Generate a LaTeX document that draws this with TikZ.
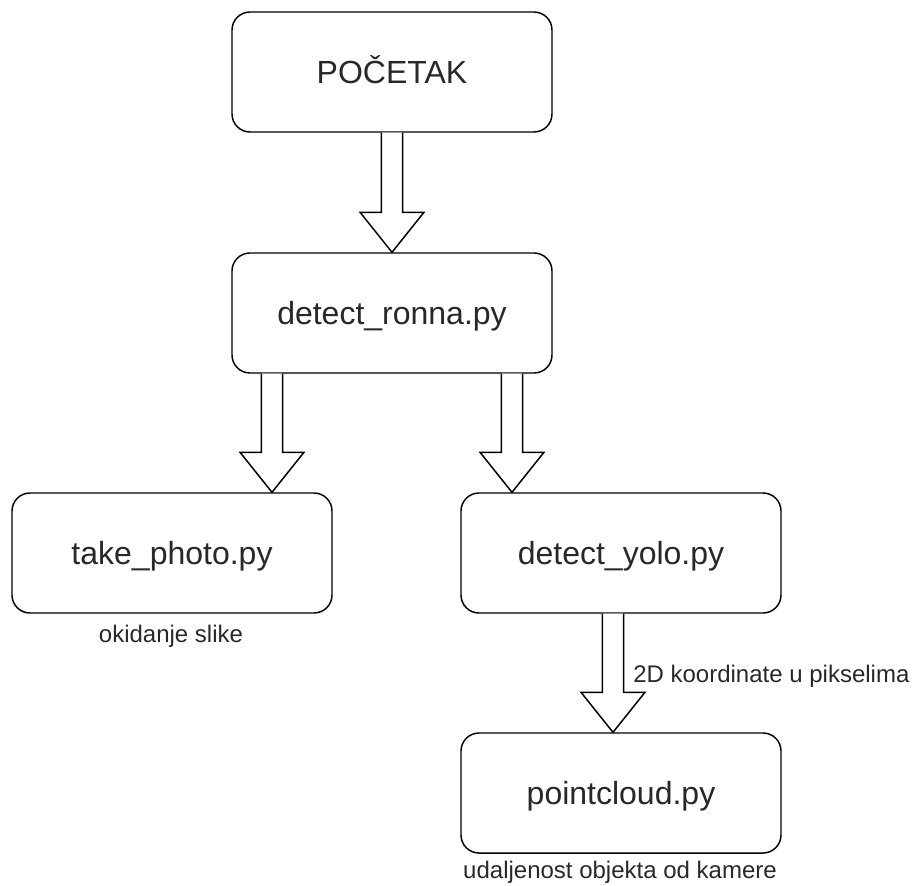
\documentclass[tikz,border=0pt]{standalone}
\usepackage{fontspec}
\setmainfont{Liberation Sans}
\usetikzlibrary{calc}
\definecolor{txt}{RGB}{40,40,40}
\newcommand\blockarrow[2]{%
  \draw[blk] let \p1=(#1), \p2=(#2) in
    (\x1-8pt,\y1) -- (\x1-8pt,\y2+30pt) -- (\x1-24pt,\y2+30pt) -- (\x1,\y2)
    -- (\x1+24pt,\y2+30pt) -- (\x1+8pt,\y2+30pt) -- (\x1+8pt,\y1);}
\begin{document}
\begin{tikzpicture}[x=0.75pt,y=-0.75pt,
  box/.style={draw, line width=1.1pt, rounded corners=13.5pt,
    minimum width=240pt, minimum height=90pt, inner sep=0pt,
    font=\fontsize{24}{28}\selectfont, text=txt,
    text height=17.2pt, text depth=0pt, fill=white},
  lbl/.style={font=\fontsize{18}{21}\selectfont, inner sep=0pt, text=txt},
  blk/.style={draw, line width=1.1pt, fill=white, line join=miter}]
\useasboundingbox (0,0) rectangle (912,885);
\node[box] (start) at (392,72) {POČETAK};
\node[box] (ronna) at (392,313) {detect\_ronna.py};
\node[box] (take) at (172,553) {take\_photo.py};
\node[box] (yolo) at (621,553) {detect\_yolo.py};
\node[box] (cloud) at (621,793) {pointcloud.py};
\coordinate (a1s) at (start.south);
\coordinate (a1t) at (ronna.north);
\coordinate (a2s) at ($(ronna.south)+(-120,0)$);
\coordinate (a2t) at (a2s |- take.north);
\coordinate (a3s) at ($(ronna.south)+(120,0)$);
\coordinate (a3t) at (a3s |- yolo.north);
\coordinate (a4s) at ($(yolo.south)+(-8,0)$);
\coordinate (a4t) at (a4s |- cloud.north);
\blockarrow{a1s}{a1t}
\blockarrow{a2s}{a2t}
\blockarrow{a3s}{a3t}
\blockarrow{a4s}{a4t}
\node[lbl, anchor=base] (l1) at (171,642) {okidanje slike};
\node[lbl, anchor=base west] (l2) at (633,682) {2D koordinate u pikselima};
\node[lbl, anchor=base] (l3) at (620,878) {udaljenost objekta od kamere};
\end{tikzpicture}
\end{document}
